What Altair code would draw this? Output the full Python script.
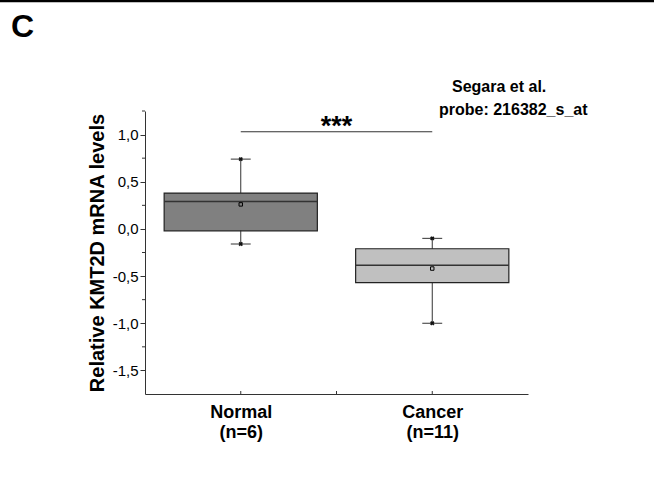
import altair as alt
import pandas as pd

# ---- data ----
groups = ["Normal", "Cancer"]
positions = [1, 2]
n_samples = [6, 11]
q1 = [-0.02, -0.57]
median = [0.29, -0.385]
q3 = [0.38, -0.21]
whisker_lo = [-0.16, -1.0]
whisker_hi = [0.74, -0.10]
means = [0.26, -0.42]
box_colors = ["#808080", "#c0c0c0"]

y_major = [-1.5, -1.0, -0.5, 0.0, 0.5, 1.0]
y_minor = [-1.25, -0.75, -0.25, 0.25, 0.75, 1.25]
x_ticks = [1, 1.5, 2]
sig_y = 1.03
sig_text = "***"
panel_letter = "C"
note_lines = ["Segara et al.", "probe: 216382_s_at"]
y_title = "Relative KMT2D mRNA levels"

FONT = "Liberation Sans"
AX = "#333333"

df = pd.DataFrame({
    "group": groups, "pos": positions, "n": n_samples,
    "q1": q1, "median": median, "q3": q3,
    "lo": whisker_lo, "hi": whisker_hi, "mean": means,
})

xscale = alt.Scale(domain=[0.5, 2.5], nice=False, zero=False)
yscale = alt.Scale(domain=[-1.75, 1.25], nice=False, zero=False)

label_expr = ("datum.value == 1 ? ['Normal', '(n=6)'] : "
              "(datum.value == 2 ? ['Cancer', '(n=11)'] : '')")

x_axis = alt.Axis(values=x_ticks, labelExpr=label_expr, ticks=False, grid=False,
                  title=None, domainColor=AX, labelFont=FONT, labelFontSize=18,
                  labelFontWeight="bold", labelColor="black", labelPadding=9,
                  labelLineHeight=20, labelAngle=0)
y_axis = alt.Axis(values=y_major,
                  labelExpr="(datum.value < 0 ? '-' : '') + replace(format(abs(datum.value), '.1f'), '.', ',')",
                  grid=False, title=y_title, domainColor=AX, tickColor=AX, tickSize=5,
                  labelFont=FONT, labelFontSize=15, labelColor="black", labelPadding=2,
                  titleFont=FONT, titleFontSize=20, titleFontWeight="bold",
                  titleColor="black", titlePadding=5)

base = alt.Chart(df)

box = base.transform_calculate(x0="datum.pos - 0.4", x1="datum.pos + 0.4").mark_bar(
    stroke="#222222", strokeWidth=1.2
).encode(
    x=alt.X("x0:Q", scale=xscale, axis=x_axis),
    x2="x1:Q",
    y=alt.Y("q1:Q", scale=yscale, axis=y_axis),
    y2="q3:Q",
    fill=alt.Fill("group:N", scale=alt.Scale(domain=groups, range=box_colors), legend=None),
)

whisker = base.mark_rule(color=AX, strokeWidth=1).encode(
    x=alt.X("pos:Q", scale=xscale), y=alt.Y("lo:Q", scale=yscale), y2="hi:Q"
)

caps = base.transform_fold(["lo", "hi"], as_=["end", "val"]).transform_calculate(
    c0="datum.pos - 0.052", c1="datum.pos + 0.052"
).mark_rule(color=AX, strokeWidth=1).encode(
    x=alt.X("c0:Q", scale=xscale), x2="c1:Q", y=alt.Y("val:Q", scale=yscale)
)

ends = base.transform_fold(["lo", "hi"], as_=["end", "val"]).mark_point(
    shape="cross", angle=45, filled=True, color="#111111", size=20, opacity=1
).encode(x=alt.X("pos:Q", scale=xscale), y=alt.Y("val:Q", scale=yscale))

med = base.transform_calculate(x0="datum.pos - 0.4", x1="datum.pos + 0.4").mark_rule(
    color=AX, strokeWidth=1.6
).encode(x=alt.X("x0:Q", scale=xscale), x2="x1:Q", y=alt.Y("median:Q", scale=yscale))

mean_pt = base.mark_point(shape="square", filled=False, color="black", size=12,
                          strokeWidth=1, opacity=1).encode(
    x=alt.X("pos:Q", scale=xscale), y=alt.Y("mean:Q", scale=yscale)
)

sig_df = pd.DataFrame({"a": [positions[0]], "b": [positions[1]], "y": [sig_y],
                       "mid": [(positions[0] + positions[1]) / 2], "t": [sig_text]})
sig_line = alt.Chart(sig_df).mark_rule(color=AX, strokeWidth=1).encode(
    x=alt.X("a:Q", scale=xscale), x2="b:Q", y=alt.Y("y:Q", scale=yscale)
)
sig_lab = alt.Chart(sig_df).mark_text(font=FONT, fontSize=27, fontWeight="bold",
                                      baseline="alphabetic", dy=3, color="black").encode(
    x=alt.X("mid:Q", scale=xscale), y=alt.Y("y:Q", scale=yscale), text="t:N"
)

xt_df = pd.DataFrame({"x": x_ticks})
x_tick_marks = alt.Chart(xt_df).mark_rule(color=AX, strokeWidth=1).encode(
    x=alt.X("x:Q", scale=xscale), y=alt.value(283), y2=alt.value(280)
)

ym_df = pd.DataFrame({"v": y_minor})
y_minor_marks = alt.Chart(ym_df).mark_rule(color=AX, strokeWidth=1).encode(
    y=alt.Y("v:Q", scale=yscale), x=alt.value(-3), x2=alt.value(0)
)

letter = alt.Chart(pd.DataFrame({"t": [panel_letter]})).mark_text(
    font=FONT, fontSize=32, fontWeight="bold", align="left", baseline="alphabetic", color="black"
).encode(x=alt.value(-134), y=alt.value(-74), text="t:N")

top_line = alt.Chart(pd.DataFrame({"t": [0]})).mark_rule(color="black", strokeWidth=2.5).encode(
    x=alt.value(-145), x2=alt.value(520), y=alt.value(-110)
)

note1 = alt.Chart(pd.DataFrame({"t": [note_lines[0]]})).mark_text(
    font=FONT, fontSize=16, fontWeight="bold", align="left", baseline="alphabetic", color="black"
).encode(x=alt.value(307), y=alt.value(-19), text="t:N")
note2 = alt.Chart(pd.DataFrame({"t": [note_lines[1]]})).mark_text(
    font=FONT, fontSize=16, fontWeight="bold", align="left", baseline="alphabetic", color="black"
).encode(x=alt.value(294), y=alt.value(4), text="t:N")

chart = alt.layer(
    whisker, caps, box, med, ends, mean_pt, sig_line, sig_lab,
    x_tick_marks, y_minor_marks, letter, top_line, note1, note2
).properties(
    width=383, height=283,
    autosize=alt.AutoSizeParams(type="none"),
    padding={"left": 145, "top": 111, "right": 126, "bottom": 85},
    background="white",
).configure_view(stroke=None)

chart.save("out.html", embed_options={"renderer": "svg", "actions": False})
